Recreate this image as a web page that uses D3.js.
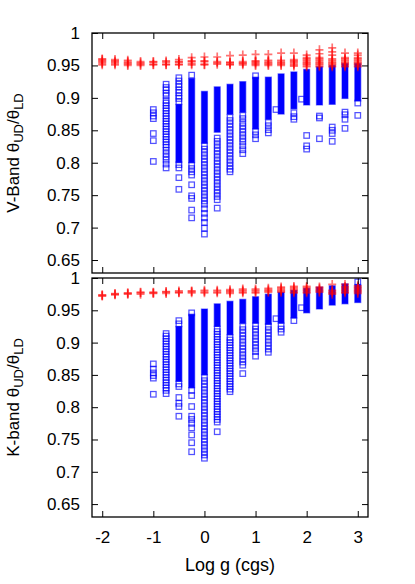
<!DOCTYPE html>
<html>
<head>
<meta charset="utf-8">
<script src="https://cdn.jsdelivr.net/npm/d3@7"></script>
<style>
  body { margin: 0; background: #fff; }
  svg { display: block; font-family: "Liberation Sans", Arial, sans-serif; }
</style>
</head>
<body>
<div id="chart"></div>
<script>
// x positions (log g) of the model grid
const loggCols = [-2, -1.75, -1.5, -1.25, -1, -0.75, -0.5, -0.25, 0, 0.25, 0.5, 0.75, 1, 1.25, 1.5, 1.75, 2, 2.25, 2.5, 2.75, 3];
const xTicks = [-2, -1, 0, 1, 2, 3];
const yTicks = [0.65, 0.7, 0.75, 0.8, 0.85, 0.9, 0.95, 1];

// V-band, red crosses (one list per log g column)
const vRed = [
  [0.951, 0.953, 0.955, 0.957, 0.959, 0.960],
  [0.951, 0.953, 0.955, 0.957, 0.959],
  [0.950, 0.952, 0.954, 0.956, 0.958],
  [0.950, 0.952, 0.954, 0.956],
  [0.951, 0.952, 0.955, 0.956],
  [0.951, 0.952, 0.955, 0.957],
  [0.951, 0.952, 0.955, 0.956, 0.959],
  [0.951, 0.953, 0.956, 0.957, 0.962],
  [0.951, 0.952, 0.956, 0.957, 0.963],
  [0.952, 0.954, 0.956, 0.963],
  [0.951, 0.952, 0.954, 0.955, 0.965],
  [0.951, 0.953, 0.954, 0.956, 0.966],
  [0.950, 0.952, 0.954, 0.956, 0.957, 0.967],
  [0.950, 0.952, 0.954, 0.956, 0.958, 0.967],
  [0.950, 0.952, 0.954, 0.956, 0.958, 0.969],
  [0.949, 0.951, 0.953, 0.955, 0.957, 0.959, 0.969],
  [0.948, 0.950, 0.952, 0.954, 0.956, 0.958, 0.960, 0.962, 0.966],
  [0.948, 0.950, 0.952, 0.954, 0.956, 0.958, 0.960, 0.962, 0.968, 0.974],
  [0.948, 0.950, 0.952, 0.954, 0.956, 0.958, 0.960, 0.966, 0.971, 0.977],
  [0.948, 0.950, 0.952, 0.954, 0.956, 0.958, 0.960, 0.962, 0.969],
  [0.948, 0.950, 0.952, 0.954, 0.956, 0.958, 0.960, 0.962, 0.966, 0.969]
];

// V-band, blue: dense solid runs [logg, low, high]
const vBands = [
  [-0.5, 0.800, 0.890], [-0.25, 0.800, 0.930], [0, 0.830, 0.910], [0.25, 0.847, 0.917],
  [0.5, 0.875, 0.921], [0.75, 0.878, 0.925], [1, 0.852, 0.932], [1.25, 0.867, 0.932],
  [1.5, 0.875, 0.937], [1.75, 0.883, 0.940], [2, 0.889, 0.944], [2.25, 0.889, 0.948],
  [2.5, 0.890, 0.950], [2.75, 0.899, 0.953], [3, 0.895, 0.953]
];

// V-band, blue: single squares [logg, values]
const vPts = [
  [-1, [0.882, 0.877, 0.872, 0.868, 0.845, 0.834, 0.802]],
  [-0.75, [0.921, 0.916, 0.912, 0.907, 0.903, 0.896, 0.892, 0.888, 0.884, 0.880, 0.876, 0.872, 0.868, 0.864, 0.860, 0.856, 0.852, 0.848, 0.844, 0.840, 0.836, 0.832, 0.828, 0.824, 0.819, 0.814, 0.809, 0.804, 0.798, 0.792]],
  [-0.5, [0.931, 0.926, 0.921, 0.917, 0.912, 0.908, 0.903, 0.899, 0.894, 0.797, 0.792, 0.777, 0.759]],
  [-0.25, [0.935, 0.796, 0.791, 0.786, 0.781, 0.766, 0.749, 0.745, 0.727, 0.715]],
  [0, [0.826, 0.821, 0.816, 0.811, 0.806, 0.801, 0.796, 0.791, 0.786, 0.781, 0.776, 0.771, 0.766, 0.761, 0.756, 0.751, 0.746, 0.741, 0.736, 0.729, 0.722, 0.715, 0.708, 0.699, 0.690]],
  [0.25, [0.838, 0.833, 0.828, 0.823, 0.818, 0.813, 0.808, 0.803, 0.798, 0.793, 0.788, 0.783, 0.778, 0.773, 0.768, 0.763, 0.758, 0.753, 0.748, 0.743, 0.730]],
  [0.5, [0.870, 0.865, 0.860, 0.855, 0.850, 0.845, 0.840, 0.835, 0.830, 0.825, 0.820, 0.815, 0.810, 0.805, 0.800, 0.795, 0.790, 0.786]],
  [0.75, [0.873, 0.868, 0.862, 0.857, 0.852, 0.847, 0.842, 0.837, 0.832, 0.826, 0.820, 0.814]],
  [1, [0.934, 0.848, 0.843, 0.837]],
  [1.25, [0.862, 0.857, 0.851, 0.846]],
  [1.4, [0.882]],
  [1.75, [0.877, 0.871, 0.867]],
  [1.9, [0.898]],
  [2, [0.842, 0.826, 0.821]],
  [2.25, [0.872, 0.869, 0.837]],
  [2.5, [0.855, 0.850, 0.845, 0.833]],
  [2.75, [0.878, 0.874, 0.867, 0.853]],
  [3, [0.892, 0.873]]
];

// K-band, red crosses
const kRed = [
  [0.972, 0.973, 0.974],
  [0.974, 0.975, 0.976],
  [0.975, 0.976, 0.977],
  [0.975, 0.977, 0.978],
  [0.976, 0.977, 0.978],
  [0.976, 0.978, 0.979],
  [0.977, 0.978, 0.980],
  [0.977, 0.979, 0.980],
  [0.977, 0.979, 0.981],
  [0.977, 0.979, 0.981],
  [0.976, 0.978, 0.980, 0.982],
  [0.977, 0.979, 0.981, 0.983],
  [0.977, 0.979, 0.981, 0.983],
  [0.978, 0.980, 0.982, 0.984],
  [0.978, 0.980, 0.982, 0.984, 0.986],
  [0.977, 0.979, 0.981, 0.983, 0.985, 0.987],
  [0.977, 0.979, 0.981, 0.983, 0.985, 0.987],
  [0.978, 0.980, 0.982, 0.984, 0.986],
  [0.975, 0.977, 0.979, 0.981, 0.990],
  [0.977, 0.979, 0.981, 0.983, 0.985, 0.987, 0.990],
  [0.976, 0.978, 0.980, 0.982, 0.984, 0.986, 0.988]
];

// K-band, blue dense runs
const kBands = [
  [-0.5, 0.840, 0.925], [-0.25, 0.830, 0.944], [0, 0.850, 0.952], [0.25, 0.925, 0.960],
  [0.5, 0.912, 0.964], [0.75, 0.930, 0.967], [1, 0.930, 0.971], [1.25, 0.928, 0.975],
  [1.5, 0.930, 0.978], [1.75, 0.938, 0.981], [2, 0.946, 0.984], [2.25, 0.952, 0.986],
  [2.5, 0.958, 0.988], [2.75, 0.960, 0.991], [3, 0.962, 0.990]
];

// K-band, blue single squares
const kPts = [
  [-1, [0.867, 0.859, 0.853, 0.849, 0.845, 0.820]],
  [-0.75, [0.914, 0.910, 0.906, 0.902, 0.898, 0.894, 0.890, 0.886, 0.882, 0.878, 0.874, 0.870, 0.866, 0.862, 0.858, 0.854, 0.850, 0.846, 0.842, 0.838, 0.834, 0.830, 0.826, 0.821]],
  [-0.5, [0.934, 0.929, 0.836, 0.832, 0.815, 0.806, 0.801, 0.786]],
  [-0.25, [0.946, 0.826, 0.818, 0.801, 0.786, 0.781, 0.775, 0.768, 0.757, 0.745, 0.731]],
  [0, [0.846, 0.841, 0.836, 0.831, 0.826, 0.821, 0.816, 0.811, 0.806, 0.801, 0.796, 0.791, 0.786, 0.781, 0.776, 0.771, 0.766, 0.761, 0.756, 0.751, 0.746, 0.741, 0.736, 0.731, 0.726, 0.721]],
  [0.25, [0.921, 0.917, 0.913, 0.909, 0.905, 0.901, 0.897, 0.893, 0.889, 0.885, 0.881, 0.877, 0.873, 0.869, 0.865, 0.861, 0.857, 0.853, 0.849, 0.845, 0.841, 0.837, 0.833, 0.829, 0.825, 0.821, 0.817, 0.813, 0.809, 0.805, 0.801, 0.797, 0.793, 0.789, 0.785, 0.781, 0.777, 0.762]],
  [0.5, [0.908, 0.904, 0.900, 0.896, 0.892, 0.888, 0.884, 0.880, 0.876, 0.872, 0.868, 0.864, 0.860, 0.856, 0.852, 0.848, 0.844, 0.840, 0.836, 0.832, 0.828, 0.824]],
  [0.75, [0.925, 0.920, 0.915, 0.910, 0.905, 0.900, 0.895, 0.890, 0.885, 0.880, 0.875, 0.870, 0.865, 0.852]],
  [1, [0.926, 0.921, 0.916, 0.911, 0.906, 0.901, 0.896, 0.891, 0.886, 0.879]],
  [1.25, [0.925, 0.920, 0.915, 0.910, 0.905, 0.900, 0.895, 0.890, 0.885]],
  [1.4, [0.937]],
  [1.5, [0.926, 0.921, 0.916]],
  [1.75, [0.934]],
  [1.9, [0.954]],
  [3, [0.994]]
];

// Layout
let width = 415;
let height = 584;
let left = 92, right = 368;

let svg = d3.select("#chart")
    .append("svg")
    .attr("width", width)
    .attr("height", height);

let xScale = d3.scaleLinear()
    .domain([-2.2, 3.2])
    .range([left, right]);

function drawPanel(top, bottom, red, bands, pts, showX, band, subA, subB) {
    let yScale = d3.scaleLinear()
        .domain([0.63, 1])
        .range([bottom, top]);

    let g = svg.append("g");

    // Blue dense runs
    g.append("g")
        .selectAll("rect")
        .data(bands)
        .join("rect")
        .attr("x", d => xScale(d[0]) - 3)
        .attr("y", d => yScale(d[2]))
        .attr("width", 6)
        .attr("height", d => yScale(d[1]) - yScale(d[2]))
        .attr("fill", "#0000ff")
        .attr("stroke", "#0000ff")
        .attr("stroke-opacity", 0.5)
        .attr("stroke-width", 1.2);

    // Blue single squares
    let blue = pts.flatMap(([x, ys]) => ys.map(y => ({ x: x, y: y })));
    g.append("g")
        .selectAll("rect")
        .data(blue)
        .join("rect")
        .attr("x", d => xScale(d.x) - 2.75)
        .attr("y", d => yScale(d.y) - 2.75)
        .attr("width", 5.5)
        .attr("height", 5.5)
        .attr("fill", "none")
        .attr("stroke", "#0000ff")
        .attr("stroke-opacity", 0.68)
        .attr("stroke-width", 1.25);

    // Red crosses
    let reds = red.flatMap((ys, i) => ys.map(y => ({ x: loggCols[i], y: y })));
    g.append("g")
        .selectAll("path")
        .data(reds)
        .join("path")
        .attr("transform", d => "translate(" + xScale(d.x) + "," + yScale(d.y) + ")")
        .attr("d", "M-4,0H4M0,-4.5V4.5")
        .attr("fill", "none")
        .attr("stroke", "#ff0000")
        .attr("stroke-opacity", 0.55)
        .attr("stroke-width", 1.7);

    // Axes, ticks pointing inward
    g.append("g")
        .attr("transform", "translate(" + left + ",0)")
        .call(d3.axisLeft(yScale).tickValues(yTicks).tickSize(-6).tickPadding(12)
            .tickFormat(d => String(+d.toFixed(2))));
    g.append("g")
        .attr("transform", "translate(" + right + ",0)")
        .call(d3.axisRight(yScale).tickValues(yTicks).tickSize(-6).tickFormat(""));
    g.append("g")
        .attr("transform", "translate(0," + top + ")")
        .call(d3.axisTop(xScale).tickValues(xTicks).tickSize(-6).tickFormat(""));
    g.append("g")
        .attr("transform", "translate(0," + bottom + ")")
        .call(d3.axisBottom(xScale).tickValues(xTicks).tickSize(-6).tickPadding(14)
            .tickFormat(showX ? (d => String(d)) : ""));

    g.selectAll(".domain").remove();
    g.selectAll(".tick line").attr("stroke", "#000").attr("stroke-width", 1);
    g.selectAll(".tick text")
        .attr("fill", "#000")
        .style("font-size", "17px")
        .style("font-family", "'Liberation Sans', Arial, sans-serif");

    // Frame
    g.append("rect")
        .attr("x", left)
        .attr("y", top)
        .attr("width", right - left)
        .attr("height", bottom - top)
        .attr("fill", "none")
        .attr("stroke", "#000")
        .attr("stroke-width", 1.3);

    // Y title
    let title = g.append("text")
        .attr("transform", "translate(19," + ((top + bottom) / 2) + ") rotate(-90)")
        .attr("text-anchor", "middle")
        .style("font-size", "17px")
        .attr("fill", "#000");
    title.append("tspan").text(band + " \u03B8");
    title.append("tspan").attr("dy", 4).style("font-size", "13px").text(subA);
    title.append("tspan").attr("dy", -4).text("/\u03B8");
    title.append("tspan").attr("dy", 4).style("font-size", "13px").text(subB);
}

drawPanel(33, 273, vRed, vBands, vPts, false, "V-Band", "UD", "LD");
drawPanel(278, 517, kRed, kBands, kPts, true, "K-band", "UD", "LD");

// X title
svg.append("text")
    .attr("x", 230)
    .attr("y", 571)
    .attr("text-anchor", "middle")
    .style("font-size", "18px")
    .attr("fill", "#000")
    .text("Log g (cgs)");
</script>
</body>
</html>
